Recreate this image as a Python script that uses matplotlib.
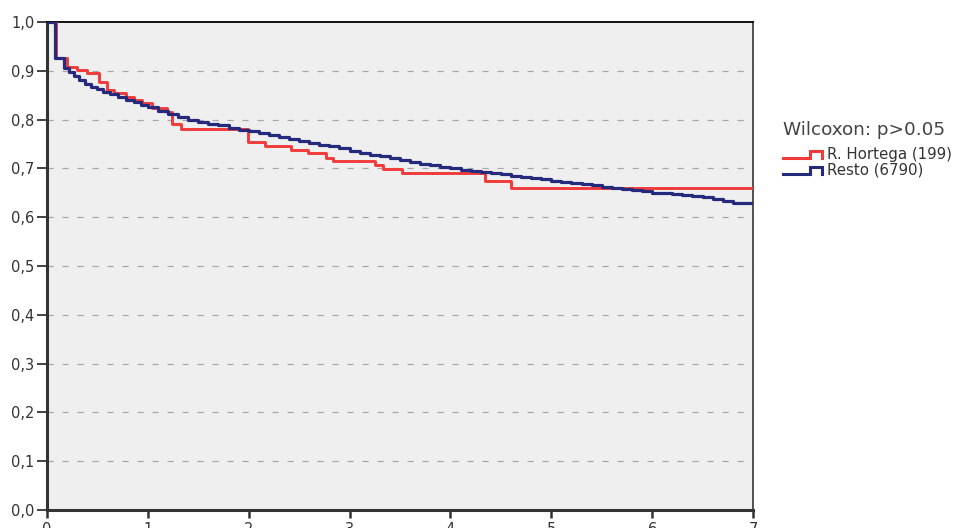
import numpy as np
import matplotlib
matplotlib.use("Agg")
import matplotlib.pyplot as plt
from matplotlib.legend_handler import HandlerBase
from matplotlib.lines import Line2D
from matplotlib.ticker import FuncFormatter

# Survival steps (time in years, cumulative survival)
hortega_t = [0.0, 0.086, 0.20, 0.30, 0.40, 0.52, 0.59, 0.66, 0.78, 0.86, 0.94, 1.04,
             1.19, 1.24, 1.33, 1.995, 2.16, 2.42, 2.59, 2.77, 2.84, 3.25, 3.33, 3.52,
             4.34, 4.60, 7.0]
hortega_s = [1.0, 0.927, 0.908, 0.902, 0.895, 0.878, 0.861, 0.854, 0.847, 0.840, 0.833, 0.824,
             0.816, 0.792, 0.781, 0.754, 0.745, 0.738, 0.731, 0.722, 0.715, 0.707, 0.698, 0.690,
             0.675, 0.660, 0.660]

resto_t = [0.0, 0.08, 0.17, 0.22, 0.27, 0.32, 0.38, 0.44, 0.50, 0.56, 0.62, 0.70, 0.78,
           0.86, 0.93, 1.0, 1.1, 1.2, 1.3, 1.4, 1.5, 1.6, 1.7, 1.8, 1.9, 2.0, 2.1, 2.2,
           2.3, 2.4, 2.5, 2.6, 2.7, 2.8, 2.9, 3.0, 3.1, 3.2, 3.3, 3.4, 3.5, 3.6, 3.7,
           3.8, 3.9, 4.0, 4.1, 4.2, 4.3, 4.4, 4.5, 4.6, 4.7, 4.8, 4.9, 5.0, 5.1, 5.2,
           5.3, 5.4, 5.5, 5.6, 5.7, 5.8, 5.9, 6.0, 6.1, 6.2, 6.3, 6.4, 6.5, 6.6, 6.7,
           6.8, 7.0]
resto_s = [1.0, 0.927, 0.905, 0.897, 0.889, 0.881, 0.873, 0.867, 0.862, 0.857, 0.852, 0.847, 0.841,
           0.836, 0.830, 0.825, 0.818, 0.812, 0.805, 0.800, 0.796, 0.792, 0.788, 0.783, 0.779, 0.776, 0.772, 0.768,
           0.764, 0.760, 0.756, 0.752, 0.748, 0.745, 0.741, 0.736, 0.732, 0.728, 0.725, 0.721, 0.718, 0.714, 0.710,
           0.706, 0.703, 0.700, 0.697, 0.695, 0.692, 0.690, 0.688, 0.685, 0.683, 0.680, 0.678, 0.675, 0.673, 0.670,
           0.668, 0.665, 0.662, 0.660, 0.657, 0.655, 0.653, 0.650, 0.649, 0.647, 0.645, 0.643, 0.641, 0.637, 0.634,
           0.630, 0.630]

labels = ["R. Hortega (199)", "Resto (6790)"]
legend_title = "Wilcoxon: p>0.05"

RED = "#f23a3a"
BLUE = "#262a7c"


class StepHandler(HandlerBase):
    # legend key drawn as a little step, like the SPSS output
    def create_artists(self, legend, orig_handle, xdescent, ydescent,
                       width, height, fontsize, trans):
        x0, x1 = -xdescent, -xdescent + width
        xm = x0 + 0.68 * width
        y0 = -ydescent + 0.1 * height
        y1 = -ydescent + 0.75 * height
        line = Line2D([x0, xm, xm, x1, x1], [y0, y0, y1, y1, y0],
                      color=orig_handle.get_color(), linewidth=2.2,
                      solid_joinstyle="miter", transform=trans)
        return [line]


fig = plt.figure(figsize=(9.63, 5.28), dpi=100)
ax = fig.add_axes([47 / 963, 1 - 510 / 528, 706 / 963, 488 / 528])
ax.set_facecolor("#efefef")

h1, = ax.step(hortega_t, hortega_s, where="post", color=RED, linewidth=2.1, zorder=3)
h2, = ax.step(resto_t, resto_s, where="post", color=BLUE, linewidth=2.3, zorder=4)

ax.set_xlim(0, 7)
ax.set_ylim(0, 1.0)
ax.set_xticks(range(0, 8))
ax.set_yticks(np.arange(0, 1.01, 0.1))
ax.yaxis.set_major_formatter(FuncFormatter(lambda v, p: f"{v:.1f}".replace(".", ",")))

for y in np.arange(0.1, 0.95, 0.1):
    ax.axhline(y, color="#a8a8a8", linewidth=0.9, linestyle=(0, (5, 7)), zorder=1)

for side in ("left", "bottom"):
    ax.spines[side].set_linewidth(2.2)
    ax.spines[side].set_color("#333333")
ax.spines["top"].set_linewidth(1.3)
ax.spines["top"].set_color("black")
ax.spines["right"].set_linewidth(1.3)
ax.spines["right"].set_color("#444444")

ax.tick_params(axis="y", length=7, width=1.3, color="#333333", labelsize=10.5,
               labelcolor="#333333", pad=2)
ax.tick_params(axis="x", length=6, width=1.8, color="#333333", labelsize=10.5,
               labelcolor="#333333", pad=3)

leg = ax.legend([h1, h2], labels, title=legend_title, handler_map={Line2D: StepHandler()},
                loc="upper left", bbox_to_anchor=(783 / 963, 1 - 121 / 528),
                bbox_transform=fig.transFigure, frameon=False, fontsize=10.8,
                title_fontsize=13.2, alignment="left", handlelength=2.6,
                handletextpad=0.35, labelspacing=0.02, borderpad=0, borderaxespad=0)
leg.get_title().set_color("#444444")
leg._legend_box.sep = 6
for t in leg.get_texts():
    t.set_color("#333333")

fig.savefig("out.png", dpi=100)
